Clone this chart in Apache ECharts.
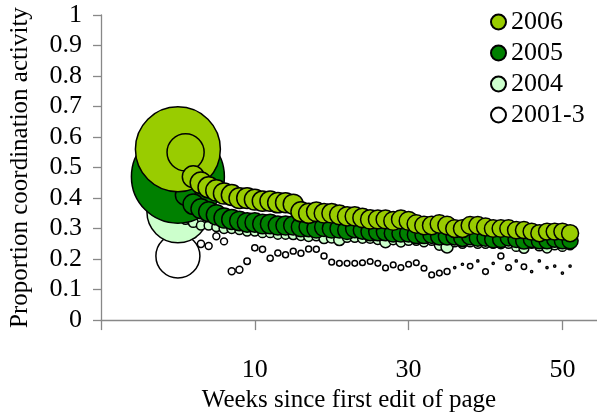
<!DOCTYPE html>
<html>
<head>
<meta charset="utf-8">
<script src="https://cdn.jsdelivr.net/npm/echarts@6/dist/echarts.min.js"></script>
<style>html,body{margin:0;padding:0;background:#fff}#c{width:597px;height:418px}</style>
</head>
<body>
<div id="c"></div>
<script>
// ---- data ----
const weeks = [0,1,2,3,4,5,6,7,8,9,10,11,12,13,14,15,16,17,18,19,20,21,22,23,24,25,26,27,28,29,30,31,32,33,34,35,36,37,38,39,40,41,42,43,44,45,46,47,48,49,50,51];
const seriesNames = ['2006','2005','2004','2001-3'];
const xTicks = [10,30,50];

const val2006 = [0.56,0.55,0.47,0.45,0.435,0.425,0.415,0.41,0.40,0.40,0.395,0.39,0.39,0.385,0.385,0.38,0.355,0.35,0.355,0.35,0.35,0.345,0.34,0.34,0.335,0.33,0.33,0.33,0.325,0.33,0.325,0.315,0.31,0.31,0.315,0.31,0.30,0.30,0.31,0.31,0.305,0.30,0.30,0.30,0.295,0.295,0.29,0.285,0.29,0.29,0.29,0.285];
const w2006 = [451,86,30,29,28,28,28,27,27,27,27,26,26,26,25,25,25,25,24,24,24,24,23,23,23,23,22,22,22,22,22,21,21,21,21,21,20,20,20,20,20,19,19,19,19,18,18,18,18,18,18,18];

const val2005 = [0.47,0.41,0.38,0.365,0.355,0.345,0.335,0.33,0.325,0.32,0.32,0.315,0.315,0.31,0.31,0.31,0.305,0.305,0.30,0.305,0.30,0.30,0.295,0.30,0.295,0.29,0.29,0.29,0.285,0.285,0.285,0.28,0.28,0.28,0.275,0.275,0.275,0.27,0.275,0.27,0.27,0.265,0.265,0.27,0.265,0.26,0.265,0.26,0.26,0.265,0.26,0.26];
const w2005 = [540,26,26,25,25,25,25,25,24,24,24,24,24,23,23,23,23,23,22,22,22,22,22,21,21,21,21,21,20,20,20,20,20,19,19,19,19,19,18,18,18,18,17,17,17,17,17,16,16,16,16,16];

const val2004 = [0.355,0.33,0.32,0.31,0.31,0.305,0.30,0.30,0.295,0.29,0.29,0.285,0.285,0.28,0.28,0.28,0.277,0.274,0.275,0.267,0.27,0.263,0.27,0.27,0.268,0.268,0.264,0.256,0.262,0.256,0.26,0.26,0.255,0.26,0.245,0.24,0.255,0.25,0.255,0.25,0.25,0.25,0.25,0.25,0.24,0.235,0.25,0.243,0.236,0.245,0.24,0.245];
const w2004 = [240,6,6,5,5,5,6,6,5,5,5,5,5,5,5,6,6,6,5,6,7,8,5,5,6,6,6,8,5,6,5,5,5,5,6,9,5,5,5,5,5,5,6,5,5,6,5,6,6,5,5,5];

const val2001 = [0.21,0.30,0.28,0.25,0.243,0.275,0.258,0.16,0.165,0.193,0.237,0.232,0.203,0.22,0.214,0.226,0.219,0.233,0.232,0.21,0.19,0.186,0.186,0.186,0.188,0.192,0.186,0.171,0.181,0.172,0.183,0.188,0.17,0.148,0.154,0.159,0.172,0.183,0.177,0.194,0.159,0.186,0.21,0.172,0.194,0.175,0.159,0.194,0.172,0.177,0.154,0.177];
const w2001 = [121,3,3,3.2,3,3,3,3,3,2.6,2.4,2.4,2.3,2.3,2.2,2.2,2.2,2.2,2.2,2.2,2,2,2,2,2,2,2,2,2,2,2,2,2,2,2,2.2,0.3,0.3,1.8,0.3,2,0.3,2.2,2,0.3,1.8,0.3,0.3,0.3,0.3,0.3,0.3];

// ---- chart ----
function pts(vals, ws){ return weeks.map((w,i)=>[w, vals[i], ws[i]]); }
const colors = {'2006':'#99cc00','2005':'#008000','2004':'#ccffcc','2001-3':'#ffffff'};
const FONT = '"Liberation Serif", "Times New Roman", serif';

function mk(name, vals, ws){
  return {
    name: name, type: 'scatter',
    data: pts(vals, ws),
    symbol: 'circle',
    symbolSize: function(v){ return 4*Math.sqrt(v[2]); },
    itemStyle: {color: colors[name], borderColor:'#000', borderWidth:1.5, opacity:1},
    emphasis: {disabled:true},
    silent: true
  };
}

const chart = echarts.init(document.getElementById('c'), null, {renderer:'canvas'});
chart.setOption({
  animation: false,
  backgroundColor: '#fff',
  textStyle: {fontFamily: FONT, color:'#000'},
  grid: {left: 101, right: 0, top: 15, bottom: 93, containLabel:false},
  legend: {
    orient: 'vertical', left: 485, top: 4,
    data: seriesNames.map(n=>({name:n, icon:'circle'})),
    itemWidth: 15, itemHeight: 15, itemGap: 5,
    textStyle: {fontFamily: FONT, fontSize: 26, color:'#000'},
    selectedMode: false
  },
  xAxis: {
    type:'value', min:-10, max:54.5, interval:20,
    name:'Weeks since first edit of page', nameLocation:'middle', nameGap:62,
    nameTextStyle:{fontFamily:FONT, fontSize:25, color:'#000'},
    axisLine:{show:true, onZero:false, lineStyle:{color:'#888', width:1.3}},
    axisTick:{show:true, length:10, lineStyle:{color:'#888', width:1.3}},
    axisLabel:{margin:37, fontFamily:FONT, fontSize:26, color:'#000', showMaxLabel:false,
      formatter: function(v){ return xTicks.indexOf(v) >= 0 ? String(v) : ''; }},
    splitLine:{show:false}
  },
  yAxis: {
    type:'value', min:0, max:1, interval:0.1,
    name:'Proportion coordination activity', nameLocation:'middle', nameGap:68,
    nameTextStyle:{fontFamily:FONT, fontSize:25, color:'#000'},
    axisLine:{show:true, onZero:false, lineStyle:{color:'#888', width:1.3}},
    axisTick:{show:true, length:8, lineStyle:{color:'#888', width:1.3}},
    axisLabel:{margin:19, fontFamily:FONT, fontSize:26, color:'#000'},
    splitLine:{show:false}
  },
  series: [
    mk('2001-3', val2001, w2001),
    mk('2004', val2004, w2004),
    mk('2005', val2005, w2005),
    mk('2006', val2006, w2006)
  ]
});
</script>
</body>
</html>
